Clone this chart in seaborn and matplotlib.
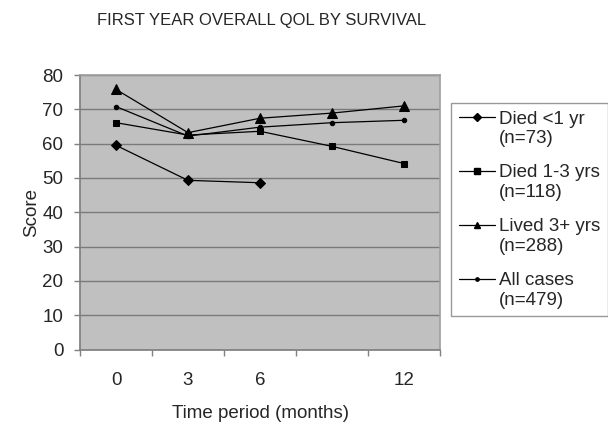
import numpy as np
import pandas as pd
import seaborn as sns
import matplotlib
matplotlib.use("Agg")
import matplotlib.pyplot as plt
from matplotlib.lines import Line2D
from matplotlib.legend_handler import HandlerLine2D

# Time points (months); the 9-month point carries no tick label
months = [0, 3, 6, 9, 12]
month_labels = ["0", "3", "6", "", "12"]

died_lt1 = [59.5, 49.3, 48.6]           # only measured up to 6 months
died_1_3 = [66.1, 62.5, 63.6, 59.2, 54.2]
lived_3p = [75.8, 63.2, 67.4, 68.9, 71.0]
all_cases = [70.8, 62.2, 64.8, 66.1, 66.8]

series_names = ["Died <1 yr\n(n=73)", "Died 1-3 yrs\n(n=118)",
                "Lived 3+ yrs\n(n=288)", "All cases\n(n=479)"]
series_values = [died_lt1, died_1_3, lived_3p, all_cases]
series_markers = ["D", "s", "^", "o"]
marker_sizes = [5, 5, 6.5, 3.2]

rows = []
for name, vals in zip(series_names, series_values):
    for i, v in enumerate(vals):
        rows.append({"pos": i, "score": v, "group": name})
df = pd.DataFrame(rows)

sns.set_theme(style="white")
plt.rcParams["font.family"] = ["Liberation Sans", "DejaVu Sans"]

fig = plt.figure(figsize=(6.08, 4.25), dpi=100)
ax = fig.add_axes([80 / 608, 1 - 349.5 / 425, 360 / 608, 274.5 / 425])
ax.set_facecolor("#c0c0c0")

for name, mk, ms in zip(series_names, series_markers, marker_sizes):
    sub = df[df["group"] == name]
    sns.lineplot(data=sub, x="pos", y="score", ax=ax, color="black",
                 marker=mk, markersize=ms, markeredgecolor="black",
                 linewidth=0.9, legend=False, zorder=3)

ax.set_xlim(-0.5, 4.5)
ax.set_ylim(0, 80)
ax.set_yticks(np.arange(0, 81, 10))
ax.yaxis.grid(True, color="#7a7a7a", linewidth=1.0)
ax.set_axisbelow(True)

# category boundaries carry the tick marks, centres carry the labels
ax.set_xticks(np.arange(-0.5, 5, 1))
ax.set_xticklabels([])
ax.set_xticks(range(len(months)), minor=True)
ax.set_xticklabels(month_labels, minor=True)
ax.tick_params(axis="x", which="major", length=4, width=1, color="#808080", direction="out", bottom=True)
ax.tick_params(axis="x", which="minor", length=0, pad=16, labelsize=13.5)
ax.tick_params(axis="y", length=4, width=1, color="#808080", direction="out", left=True, labelsize=13.5, pad=8)

for side in ["top", "right"]:
    ax.spines[side].set_visible(True)
    ax.spines[side].set_color("#a0a0a0")
ax.spines["left"].set_color("#808080")
ax.spines["bottom"].set_color("#808080")

ax.set_xlabel("Time period (months)", fontsize=13.5, labelpad=12)
ax.set_ylabel("Score", fontsize=13.5, labelpad=1.5)

fig.text(262 / 608, 1 - 20 / 425, "FIRST YEAR OVERALL QOL BY SURVIVAL",
         ha="center", va="center", fontsize=12)

LEG_FS = 13.5
LINE_SP = 1.22


class FirstLineHandler(HandlerLine2D):
    """Place the legend key beside the first line of a two-line label."""
    def create_artists(self, legend, orig_handle, xdescent, ydescent,
                       width, height, fontsize, trans):
        artists = super().create_artists(legend, orig_handle, xdescent, ydescent,
                                         width, height, fontsize, trans)
        for a in artists:
            a.set_ydata(np.asarray(a.get_ydata()) + 0.5 * LINE_SP * fontsize)
        return artists


handles = [Line2D([0], [0], color="black", marker=mk, markersize=ms * 0.75, linewidth=0.9)
           for mk, ms in zip(series_markers, marker_sizes)]
leg = fig.legend(handles, series_names, loc="upper left",
                 bbox_to_anchor=(451 / 608, 1 - 103 / 425), frameon=True,
                 fontsize=LEG_FS, handlelength=1.95, handletextpad=0.2,
                 labelspacing=0.9, borderpad=0.4, borderaxespad=0,
                 fancybox=False,
                 handler_map={Line2D: FirstLineHandler()})
for t in leg.get_texts():
    t.set_linespacing(LINE_SP)
leg.get_frame().set_edgecolor("#808080")
leg.get_frame().set_linewidth(1.0)

fig.savefig("out.png", dpi=100)
